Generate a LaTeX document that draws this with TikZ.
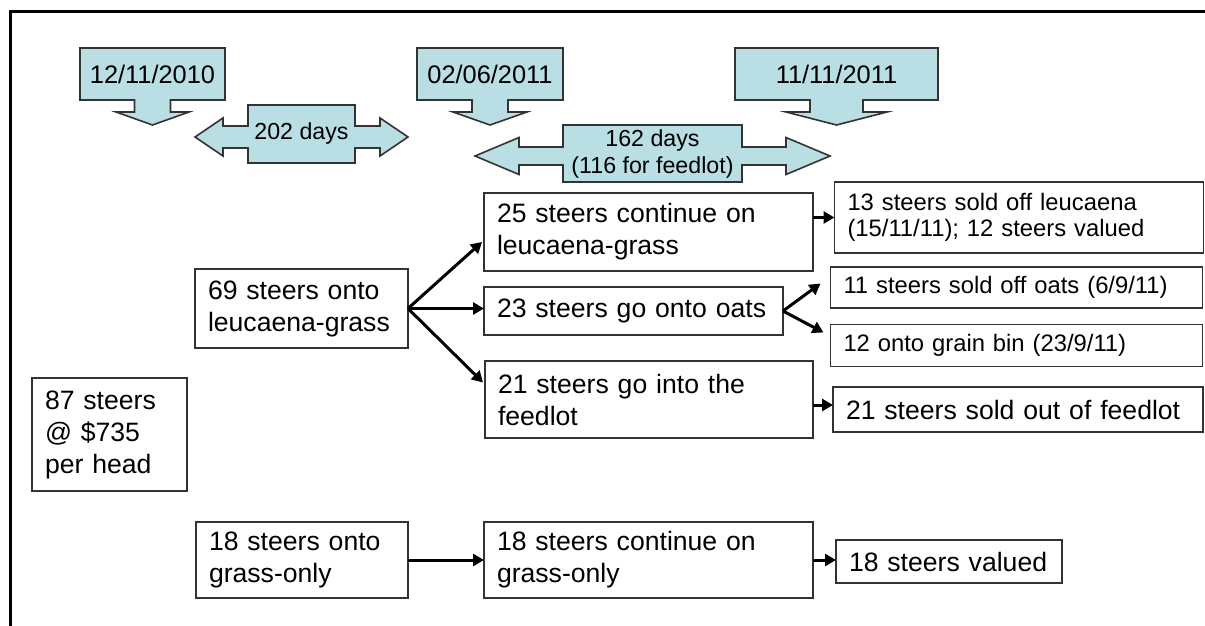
\documentclass[tikz,border=0pt]{standalone}
\usepackage{fontspec}
\setmainfont{Liberation Sans}
\usetikzlibrary{arrows.meta,backgrounds,calc}
\definecolor{datefill}{RGB}{185,222,227}
\newcommand{\stagefont}{\fontsize{13.3pt}{16pt}\selectfont}
\newcommand{\outcomefont}{\fontsize{11.9pt}{13pt}\selectfont}
\newcommand{\datefont}{\fontsize{12.7pt}{15pt}\selectfont}
\newcommand{\spanfont}{\fontsize{11.6pt}{13.5pt}\selectfont}
\tikzset{
    steer chart/.style = {x=0.5pt, y=-0.5pt,
                          >={Triangle[length=5.5pt, width=6pt]}},
    stage/.style       = {draw=black!80, line width=0.8pt, fill=white,
                          align=left, inner xsep=6.5pt, inner ysep=0pt,
                          outer sep=0pt, font=\stagefont},
    outcome/.style     = {stage, font=\outcomefont},
    datebox/.style     = {inner sep=0pt, outer sep=0pt, font=\datefont},
    spanbox/.style     = {inner sep=0pt, outer sep=0pt, align=center,
                          font=\spanfont},
    callout/.style     = {draw=black!80, line width=0.8pt, fill=datefill,
                          line join=miter},
    flow/.style        = {->, line width=1.5pt},
    frame/.style       = {line width=1.5pt}
}
% node, stem half width, head half width
\newcommand{\datedrop}[3]{%
  \draw[callout] (#1.north west) -- (#1.north east) -- (#1.south east)
    -- ($(#1.south)+(#2,0)$) -- ($(#1.south)+(#2,12)$)
    -- ($(#1.south)+(#3,12)$) -- ($(#1.south)+(0,25)$)
    -- ($(#1.south)+(-#3,12)$) -- ($(#1.south)+(-#2,12)$)
    -- ($(#1.south)+(-#2,0)$) -- (#1.south west) -- cycle;}
% node, shaft drop, shaft half height, head half height, shaft length, head length
\newcommand{\dayspan}[6]{%
  \draw[callout] (#1.north west) -- (#1.north east)
    -- ($(#1.east)+(0,#2-#3)$) -- ($(#1.east)+(#5,#2-#3)$)
    -- ($(#1.east)+(#5,#2-#4)$) -- ($(#1.east)+(#5+#6,#2)$)
    -- ($(#1.east)+(#5,#2+#4)$) -- ($(#1.east)+(#5,#2+#3)$)
    -- ($(#1.east)+(0,#2+#3)$) -- (#1.south east) -- (#1.south west)
    -- ($(#1.west)+(0,#2+#3)$) -- ($(#1.west)+(-#5,#2+#3)$)
    -- ($(#1.west)+(-#5,#2+#4)$) -- ($(#1.west)+(-#5-#6,#2)$)
    -- ($(#1.west)+(-#5,#2-#4)$) -- ($(#1.west)+(-#5,#2-#3)$)
    -- ($(#1.west)+(0,#2-#3)$) -- cycle;}

\begin{document}
\begin{tikzpicture}[steer chart]
\useasboundingbox (0,0) rectangle (1205,626);
\draw[frame] (10,626) -- (10,12) -- (1205,12);

% timeline
\node[datebox, minimum width=72.5pt, minimum height=26pt] (d1) at (152.5,74) {12/11/2010};
\node[datebox, minimum width=73pt, minimum height=26pt] (d2) at (490,74) {02/06/2011};
\node[datebox, minimum width=101.5pt, minimum height=26pt] (d3) at (836.5,74) {11/11/2011};
\node[spanbox, minimum width=53.5pt, minimum height=29pt] (s1) at (301.5,134) {202 days};
\node[spanbox, minimum width=89.5pt, minimum height=28.5pt] (s2) at (652.5,153.5)
  {162 days\\(116 for feedlot)};
\begin{scope}[on background layer]
  \datedrop{d1}{18}{36.5}
  \datedrop{d2}{18}{37}
  \datedrop{d3}{26.5}{50.5}
  \dayspan{s1}{3}{11}{19}{25}{28}
  \dayspan{s2}{2.5}{9}{18.5}{44}{44}
\end{scope}

% groups
\node[stage, text width=64.5pt, minimum height=56.5pt] (start) at (109.5,434.5)
  {87 steers\\@ \$735\\per head};
\node[stage, text width=93.5pt, minimum height=39.5pt] (leu) at (301.5,308.5)
  {69 steers onto\\leucaena-grass};
\node[stage, text width=93pt, minimum height=38pt] (grass) at (302,560)
  {18 steers onto\\grass-only};
\node[stage, text width=151.5pt, minimum height=39pt] (leucont) at (648.5,232)
  {25 steers continue on\\leucaena-grass};
\node[stage, text width=136.5pt, minimum height=24pt] (oats) at (633.5,311)
  {23 steers go onto oats};
\node[stage, text width=151pt, minimum height=38.5pt] (feedlot) at (649,399.5)
  {21 steers go into the\\feedlot};
\node[stage, text width=151.5pt, minimum height=38pt] (grasscont) at (648.5,560)
  {18 steers continue on\\grass-only};
\node[outcome, text width=171.5pt, minimum height=35.5pt] (leusold) at (1019,217.5)
  {13 steers sold off leucaena\\(15/11/11); 12 steers valued};
\node[outcome, text width=173pt, minimum height=20.5pt] (oatsold) at (1016.5,287.5)
  {11 steers sold off oats (6/9/11)};
\node[outcome, text width=173pt, minimum height=21pt] (grainbin) at (1016.5,345.5)
  {12 onto grain bin (23/9/11)};
\node[stage, text width=172pt, minimum height=22.5pt] (feedsold) at (1018,409.5)
  {21 steers sold out of feedlot};
\node[stage, text width=100pt, minimum height=21.5pt] (grassval) at (949,561.5)
  {18 steers valued};

\draw[flow] (leu.east) -- ($(leucont.west)+(-2,10)$);
\draw[flow] (leu.east) -- (leu.east -| oats.west);
\draw[flow] (leu.east) -- ($(feedlot.west)+(-2,-17)$);
\draw[flow] (oats.east) -- ($(oatsold.west)+(-10,-4)$);
\draw[flow] (oats.east) -- ($(grainbin.west)+(-7,-13)$);
\draw[flow] (leucont.east |- leusold.west) -- (leusold.west);
\draw[flow] ($(feedlot.east)+(0,5.5)$) coordinate (fl) -- (fl -| feedsold.west);
\draw[flow] (grass.east) -- (grasscont.west);
\draw[flow] (grasscont.east) -- (grasscont.east -| grassval.west);

\end{tikzpicture}
\end{document}
